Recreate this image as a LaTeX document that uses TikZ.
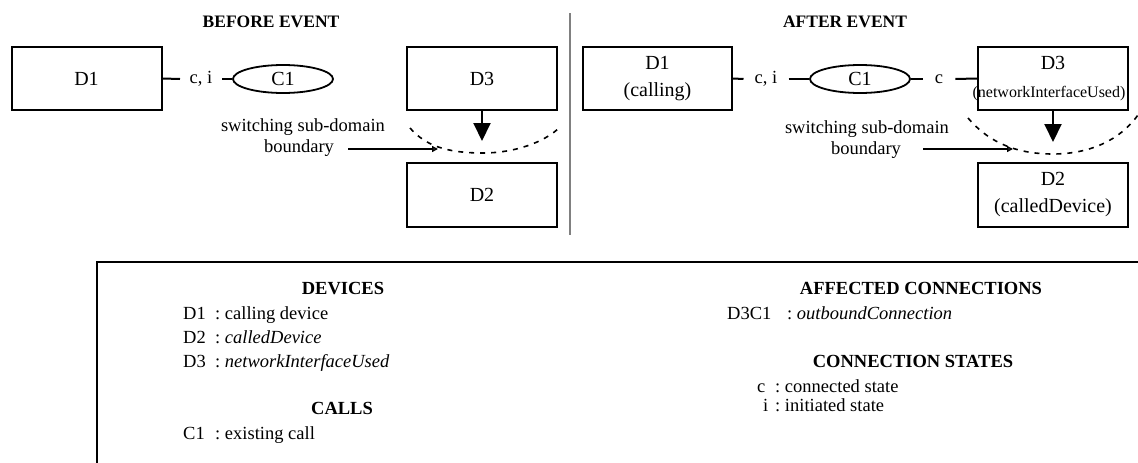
\documentclass[tikz,border=0pt]{standalone}
\usepackage{fontspec}
\setmainfont{Liberation Serif}
\usetikzlibrary{shapes.geometric,arrows.meta}
\begin{document}
\begin{tikzpicture}[x=1pt,y=-1pt,
  dev/.style={draw,line width=2pt,rectangle,inner sep=0pt,minimum width=150pt,minimum height=63pt,align=center,font=\fontsize{20}{27}\selectfont},
  callnode/.style={draw,line width=1.8pt,ellipse,inner sep=0pt,minimum width=100pt,minimum height=28pt,font=\fontsize{20}{24}\selectfont},
  lbl/.style={inner sep=0pt,font=\fontsize{18.5}{22}\selectfont},
  st/.style={inner ysep=0pt,font=\fontsize{18.5}{22}\selectfont},
  conn/.style={line width=2pt},
  head/.style={inner sep=0pt,font=\bfseries\fontsize{17.5}{21}\selectfont},
  lhead/.style={inner sep=0pt,anchor=base,font=\bfseries\fontsize{18.5}{22}\selectfont},
  lkey/.style={inner sep=0pt,anchor=base west,font=\fontsize{18.5}{22}\selectfont},
  ptr/.style={line width=1.6pt,-{Triangle[open,length=6pt,width=6pt]}},
  flow/.style={line width=2pt,-{Triangle[length=18pt,width=17pt]}},
  bound/.style={line width=1.6pt,dash pattern=on 5pt off 6pt}
]
\useasboundingbox (0,0) rectangle (1138,463);
\clip (0,0) rectangle (1138,463);

% headings
\node[head] (hb) at (271,22) {BEFORE EVENT};
\node[head] (ha) at (845,22) {AFTER EVENT};

% divider
\draw[gray,line width=2pt] (570,13) -- (570,235);

% ---------- BEFORE ----------
\node[dev] (D1a) at (86.5,78.5) {D1};
\node[st,inner xsep=9.5pt] (cia) at (201,79) {c, i};
\node[callnode] (C1a) at (283,79) {C1};
\node[dev] (D3a) at (482,78.5) {D3};
\node[dev,minimum height=64pt] (D2a) at (482,194.5) {D2};
\coordinate (tipa) at (482,141);
\draw[conn] (D1a.east) -- (cia.west);
\draw[conn] (cia.east) -- (C1a.west);
\draw[flow] (D3a.south) -- (tipa);

\node[lbl] (swa) at (303,127) {switching sub-domain};
\node[lbl,inner xsep=14pt] (bda) at (299,148) {boundary};
\coordinate (ba) at (438,149);
\draw[ptr] (bda.east |- ba) -- (ba);
\draw[bound] (410,128) .. controls (425,145) and (445,153) .. (483,153)
              .. controls (515,153) and (545,142) .. (560,127);

% ---------- AFTER ----------
\node[dev,minimum width=149pt] (D1b) at (657.5,78.5) {D1\\(calling)};
\node[st,inner xsep=11pt] (cib) at (766,79) {c, i};
\node[callnode] (C1b) at (860,79) {C1};
\node[st,inner xsep=12pt] (cb) at (939,79) {c};
\node[dev] (D3b) at (1053,78.5) {D3\\[1pt]{\fontsize{16}{18}\selectfont\makebox[0pt]{\hspace*{-8pt}(networkInterfaceUsed)}}};
\node[dev,minimum height=64pt] (D2b) at (1053,194.5) {D2\\(calledDevice)};
\coordinate (tipb) at (1053,142);
\draw[conn] (D1b.east) -- (cib.west);
\draw[conn] (cib.east) -- (C1b.west);
\draw[conn] (C1b.east) -- (cb.west);
\draw[conn] (cb.east) -- (D3b.west);
\draw[flow] (D3b.south) -- (tipb);

\node[lbl] (swb) at (867,129) {switching sub-domain};
\node[lbl,inner xsep=22pt] (bdb) at (866,150) {boundary};
\coordinate (bb) at (1013,149);
\draw[ptr] (bdb.east |- bb) -- (bb);
\draw[bound] (968,118) .. controls (985,138) and (1010,154) .. (1053,154)
              .. controls (1090,154) and (1120,140) .. (1138,115);

% ---------- LEGEND ----------
\draw[line width=2pt] (97,262) rectangle (1160,490);

\node[lhead] (hdev) at (343,294) {DEVICES};
\node[lkey] (k1) at (183,319) {D1};
\node[lkey] (v1) at (215,319) {:\ calling device};
\node[lkey] (k2) at (183,343) {D2};
\node[lkey] (v2) at (215,343) {:\ \textit{calledDevice}};
\node[lkey] (k3) at (183,367) {D3};
\node[lkey] (v3) at (215,367) {:\ \textit{networkInterfaceUsed}};
\node[lhead] (hcal) at (342,414) {CALLS};
\node[lkey] (k4) at (183,439) {C1};
\node[lkey] (v4) at (215,439) {:\ existing call};

\node[lhead] (haff) at (921,294) {AFFECTED CONNECTIONS};
\node[lkey] (k5) at (727,319) {D3C1};
\node[lkey] (v5) at (787,319) {:\ \textit{outboundConnection}};
\node[lhead] (hst) at (913,367) {CONNECTION STATES};
\node[lkey] (k6) at (757,392) {c};
\node[lkey] (v6) at (775,392) {:\ connected state};
\node[lkey] (k7) at (763,411) {i};
\node[lkey] (v7) at (775,411) {:\ initiated state};
\end{tikzpicture}
\end{document}
